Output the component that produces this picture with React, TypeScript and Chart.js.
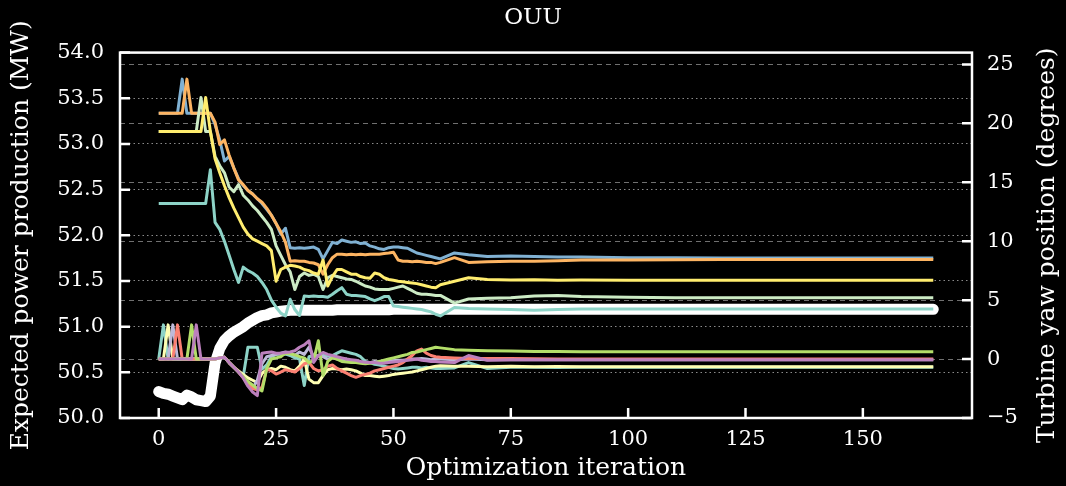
import React, { useEffect, useRef } from "react";
import { Chart, registerables } from "chart.js";

Chart.register(...registerables);

// ---------------- data ----------------
const iterations = [
  0, 1, 2, 3, 4, 5, 6, 7, 8, 9,
  10, 11, 12, 13, 14, 15, 16, 17, 18, 19,
  20, 21, 22, 23, 24, 25, 26, 27, 28, 29,
  30, 31, 32, 33, 34, 35, 36, 37, 38, 39,
  40, 41, 42, 43, 44, 45, 46, 47, 48, 49,
  50, 51, 52, 53, 54, 55, 56, 57, 58, 59, 60,
  63, 66, 70, 75, 80, 85, 90, 100, 110, 120, 135, 150, 165,
];

// Expected power production (MW), left axis
const powerMW = [
  50.29, 50.27, 50.26, 50.24, 50.22, 50.2, 50.25, 50.23, 50.2, 50.19,
  50.18, 50.24, 50.6, 50.76, 50.85, 50.9, 50.94, 50.97, 51.0, 51.04,
  51.07, 51.1, 51.12, 51.13, 51.15, 51.16, 51.17, 51.175, 51.18, 51.18,
  51.18, 51.18, 51.18, 51.18, 51.18, 51.18, 51.18, 51.18, 51.185, 51.185,
  51.185, 51.185, 51.185, 51.185, 51.185, 51.185, 51.185, 51.185, 51.185, 51.185,
  51.19, 51.19, 51.19, 51.19, 51.19, 51.19, 51.19, 51.19, 51.19, 51.19, 51.19,
  51.19, 51.19, 51.19, 51.19, 51.19, 51.19, 51.19, 51.19, 51.19, 51.19, 51.19, 51.19, 51.19,
];

// Turbine yaw positions (degrees), right axis
const yawT0 = [
  0, 2.9, 0, 0, 0, 0, 0, 0, 0, 0,
  0, 0, 0, 0.1, 0.15, -0.3, -0.7, -1.1, -1.5, 1.0,
  1.0, 1.0, -0.85, -0.5, 0.2, 0.4, 0.4, 0.42, 0.3, 0.1,
  0.0, -2.25, 0.2, 0.3, 0.25, 0.3, 0.28, 0.3, 0.5, 0.7,
  0.6, 0.5, 0.4, 0.2, -0.2, -0.3, -0.45, -0.5, -0.6, -0.7,
  -0.8, -0.85, -0.8, -0.75, -0.7, -0.7, -0.75, -0.7, -0.75, -0.8, -0.8,
  -0.75, -0.3, -0.8, -0.7, -0.7, -0.72, -0.7, -0.7, -0.7, -0.7, -0.7, -0.7, -0.7,
];
const yawT1 = [
  0, 0, 2.9, 0, 0, 0, 0, 0, 0, 0,
  0, 0, 0, 0.1, 0.15, -0.3, -0.7, -1.0, -1.3, -1.6,
  -1.8, -2.0, -1.2, -0.9, -0.8, -0.9, -0.6, -0.7, -0.9, -1.0,
  -0.6, 0.0, -1.7, -2.0, -2.0, -1.4, -0.9, -0.8, -0.85, -0.9,
  -0.85, -0.9, -1.0, -1.2, -1.4, -1.4, -1.45, -1.5, -1.45, -1.4,
  -1.3, -1.25, -1.2, -1.15, -1.1, -1.0, -0.9, -0.8, -0.7, -0.6, -0.56,
  -0.6, -0.6, -0.65, -0.62, -0.65, -0.64, -0.65, -0.65, -0.65, -0.65, -0.65, -0.65, -0.65,
];
const yawT2 = [
  0, 0, 0, 2.9, 0, 0, 0, 0, 0, 0,
  0, 0, 0, 0.1, 0.15, -0.3, -0.7, -1.1, -1.5, -2.0,
  -2.5, -1.8, -0.4, 0.2, 0.3, 0.4, 0.5, 0.6, 0.5, 0.3,
  0.6, 0.4, 1.0, 0.2, 0.3, 0.2, 0.0, 0.1, 0.0, -0.1,
  0.0, -0.2, -0.3, -0.25, -0.3, -0.3, -0.2, -0.25, -0.2, -0.2,
  -0.15, -0.1, -0.1, -0.05, 0, 0, 0.05, 0, -0.05, 0, 0,
  -0.05, 0, -0.05, -0.05, -0.05, -0.05, -0.05, -0.05, -0.05, -0.05, -0.05, -0.05, -0.05,
];
const yawT3 = [
  0, 0, 0, 0, 2.9, 0, 0, 0, 0, 0,
  0, 0, 0, 0.1, 0.15, -0.3, -0.7, -1.1, -1.6, -2.1,
  -2.5, -2.6, -2.4, -0.85, -1.0, -1.27, -1.1, -0.9, -1.0, -1.1,
  -0.8, -0.4, -0.28, -0.8, -1.0, -0.9, -0.6, -0.5, -0.8, -1.0,
  -1.2, -1.4, -1.55, -1.4, -1.3, -1.2, -1.0, -0.9, -0.8, -0.7,
  -0.6, -0.5, -0.3, 0.0, 0.3, 0.7, 0.85, 0.5, 0.3, 0.2, 0.15,
  0.1, 0.05, 0.05, 0.05, 0.02, 0.0, 0.0, 0.0, 0.0, 0.0, 0.0, 0.0, 0.0,
];
const yawT4 = [
  20.85, 20.85, 20.85, 20.85, 20.85, 23.75, 20.85, 20.85, 20.85, 20.85,
  20.85, 20.85, 19.9, 18.6, 16.8, 17.2, 16.2, 15.3, 14.7, 14.3,
  14.0, 13.6, 13.2, 12.7, 12.2, 11.5, 10.6, 11.1, 9.45, 9.4,
  9.45, 9.4, 9.45, 9.5, 9.3, 8.5, 9.2, 9.9, 9.8, 10.1,
  10.0, 9.9, 9.95, 9.8, 9.85, 9.6, 9.5, 9.35, 9.3, 9.45,
  9.5, 9.5, 9.45, 9.4, 9.2, 9.0, 8.9, 8.8, 8.7, 8.6, 8.5,
  9.0, 8.85, 8.7, 8.75, 8.7, 8.65, 8.65, 8.6, 8.6, 8.58, 8.58, 8.58, 8.58,
];
const yawT5 = [
  20.85, 20.85, 20.85, 20.85, 20.85, 20.85, 23.75, 20.85, 20.85, 20.85,
  20.85, 20.85, 20.1, 18.2, 18.6, 17.3, 16.2, 15.2, 14.8, 14.3,
  14.0, 13.6, 13.3, 12.8, 12.2, 11.5, 10.8, 9.9, 8.3, 8.35,
  8.3, 8.3, 8.2, 8.15, 8.0, 7.2, 8.0, 8.6, 8.9, 8.9,
  8.85, 8.9, 8.85, 8.9, 8.85, 8.9, 8.9, 8.9, 8.95, 9.0,
  9.07, 8.4, 8.3, 8.3, 8.25, 8.3, 8.25, 8.2, 8.2, 8.1, 8.2,
  8.6, 8.2, 8.25, 8.3, 8.3, 8.35, 8.4, 8.4, 8.42, 8.45, 8.45, 8.45, 8.45,
];
const yawT6 = [
  0, 0, 0, 0, 0, 0, 0, 2.9, 0, 0,
  0, 0, 0, 0.1, 0.15, -0.3, -0.7, -1.1, -1.5, -1.9,
  -2.2, -2.5, -2.7, -0.8, 0.0, 0.1, 0.2, 0.5, 0.45, 0.35,
  0.2, 0.1, -0.3, -0.1, 1.55, -1.4, -0.2, 0.1, 0.0, -0.2,
  -0.25, -0.3, -0.3, -0.35, -0.4, -0.35, -0.3, -0.2, -0.1, 0.0,
  0.1, 0.2, 0.3, 0.4, 0.56, 0.6, 0.7, 0.8, 0.9, 1.0, 0.95,
  0.8, 0.75, 0.7, 0.68, 0.65, 0.65, 0.63, 0.62, 0.62, 0.62, 0.62, 0.62, 0.62,
];
const yawT7 = [
  0, 0, 0, 0, 0, 0, 0, 0, 2.9, 0,
  0, 0, 0, 0.1, 0.15, -0.3, -0.7, -1.1, -1.6, -2.3,
  -2.8, -3.1, 0.5, 0.56, 0.6, 0.5, 0.5, 0.55, 0.6, 0.7,
  1.0, 1.2, 1.55, -0.28, 0.3, 0.56, 0.4, 0.3, 0.2, 0.1,
  0.0, -0.05, -0.1, -0.2, -0.28, -0.3, -0.3, -0.35, -0.35, -0.3,
  -0.25, -0.2, -0.15, -0.1, -0.05, 0.0, -0.1, -0.15, -0.2, -0.2, -0.25,
  -0.3, 0.3, -0.1, -0.05, -0.06, -0.06, -0.06, -0.06, -0.06, -0.06, -0.06, -0.06, -0.06,
];
const yawT8 = [
  19.3, 19.3, 19.3, 19.3, 19.3, 19.3, 19.3, 19.3, 19.3, 22.2,
  19.3, 19.3, 17.2, 16.4, 15.8, 14.6, 14.2, 14.8, 13.9, 13.5,
  13.0, 12.6, 12.1, 11.6, 11.0, 9.6, 8.8, 8.0, 7.4, 5.9,
  7.0, 7.3, 7.1, 7.2, 7.0, 5.9, 6.9, 7.1, 7.0, 6.9,
  6.8, 6.76, 6.6, 6.4, 6.2, 6.1, 5.95, 5.9, 5.9, 5.9,
  6.0, 6.1, 6.2, 6.0, 5.8, 5.58, 5.5, 5.5, 5.45, 5.4, 5.4,
  4.75, 5.1, 5.15, 5.2, 5.35, 5.4, 5.3, 5.25, 5.2, 5.2, 5.2, 5.2, 5.2,
];
const yawT9 = [
  19.3, 19.3, 19.3, 19.3, 19.3, 19.3, 19.3, 19.3, 19.3, 19.3,
  22.2, 19.3, 17.0, 15.8, 14.7, 13.7, 12.8, 12.0, 11.2, 10.6,
  10.2, 10.0, 9.8, 9.6, 9.2, 6.6, 7.6, 7.8, 7.95, 7.9,
  7.8, 7.6, 7.5, 7.3, 7.2, 8.4, 6.2, 7.0, 7.6, 7.6,
  7.4, 7.2, 7.2, 7.0, 6.9, 6.85, 7.3, 7.2, 6.9, 6.75,
  6.68, 6.6, 6.55, 6.5, 6.45, 6.4, 6.3, 6.2, 6.1, 6.05, 6.3,
  6.6, 6.9, 6.76, 6.7, 6.72, 6.68, 6.7, 6.68, 6.68, 6.68, 6.68, 6.68, 6.68,
];
const yawT10 = [
  13.2, 13.2, 13.2, 13.2, 13.2, 13.2, 13.2, 13.2, 13.2, 13.2,
  13.2, 16.06, 11.6, 11.0, 10.0, 8.8, 7.6, 6.5, 7.8, 7.5,
  7.3, 7.0, 6.5, 5.9, 5.0, 4.4, 3.9, 3.66, 5.07, 4.2,
  3.7, 5.35, 5.3, 5.35, 5.3, 5.3, 5.25, 5.5, 5.8, 6.06,
  5.5, 5.4, 5.4, 5.35, 5.3, 5.1, 4.95, 5.1, 5.3, 5.3,
  4.5, 4.45, 4.4, 4.35, 4.3, 4.25, 4.2, 4.1, 4.0, 3.8, 3.66,
  4.37, 4.3, 4.25, 4.2, 4.15, 4.2, 4.25, 4.25, 4.25, 4.25, 4.25, 4.25, 4.25,
];

const yawSeries = [yawT0, yawT1, yawT2, yawT3, yawT4, yawT5, yawT6, yawT7, yawT8, yawT9, yawT10];
const turbineColors = [
  "#8dd3c7", "#ffffb3", "#bebada", "#fb8072", "#80b1d3", "#fdb462",
  "#b3de69", "#bc80bd", "#ccebc5", "#ffed6f", "#8dd3c7",
];

const xTicks = [0, 25, 50, 75, 100, 125, 150];
const powerTicks = [50.0, 50.5, 51.0, 51.5, 52.0, 52.5, 53.0, 53.5, 54.0];
const yawTicks = [-5, 0, 5, 10, 15, 20, 25];

const titleText = "OUU";
const xTitle = "Optimization iteration";
const leftTitle = "Expected power production (MW)";
const rightTitle = "Turbine yaw position (degrees)";

const FONT = "'DejaVu Serif', 'Liberation Serif', serif";
const TICK_SIZE = 21;
const LABEL_SIZE = 25;

// ---------------- plugins ----------------
const bgPlugin = {
  id: "bgBlack",
  beforeDraw(chart: any) {
    const { ctx, width, height } = chart;
    ctx.save();
    ctx.fillStyle = "#000";
    ctx.fillRect(0, 0, width, height);
    ctx.restore();
  },
};

const framePlugin = {
  id: "frameTicks",
  afterDatasetsDraw(chart: any) {
    const { ctx, chartArea: a, scales } = chart;
    const L = 10;
    ctx.save();
    ctx.strokeStyle = "#ffffff";
    ctx.lineWidth = 2.5;
    ctx.lineCap = "butt";
    ctx.strokeRect(a.left, a.top, a.right - a.left, a.bottom - a.top);
    ctx.beginPath();
    scales.x.ticks.forEach((t: any) => {
      const p = scales.x.getPixelForValue(t.value);
      ctx.moveTo(p, a.bottom);
      ctx.lineTo(p, a.bottom - L);
    });
    scales.y.ticks.forEach((t: any) => {
      const p = scales.y.getPixelForValue(t.value);
      ctx.moveTo(a.left, p);
      ctx.lineTo(a.left + L, p);
    });
    scales.y2.ticks.forEach((t: any) => {
      const p = scales.y2.getPixelForValue(t.value);
      ctx.moveTo(a.right, p);
      ctx.lineTo(a.right - L, p);
    });
    ctx.stroke();

    // right axis title, reading bottom-to-top like the reference
    ctx.fillStyle = "#ffffff";
    ctx.font = `${LABEL_SIZE}px ${FONT}`;
    ctx.textAlign = "center";
    ctx.textBaseline = "middle";
    ctx.translate(1047, (a.top + a.bottom) / 2 + 10);
    ctx.rotate(-Math.PI / 2);
    ctx.fillText(rightTitle, 0, 0);
    ctx.restore();
  },
};

const fmtYaw = (v: number) => (v < 0 ? "\u2212" + Math.abs(v) : String(v));

export default function App() {
  const ref = useRef<HTMLCanvasElement | null>(null);

  useEffect(() => {
    if (!ref.current) return;
    const datasets: any[] = [
      {
        label: "power",
        data: iterations.map((x, i) => ({ x, y: powerMW[i] })),
        yAxisID: "y",
        borderColor: "#ffffff",
        borderWidth: 11,
        pointRadius: 0,
        borderJoinStyle: "round",
        borderCapStyle: "round",
        order: 100,
      },
      ...yawSeries.map((s, k) => ({
        label: "turbine " + k,
        data: iterations.map((x, i) => ({ x, y: s[i] })),
        yAxisID: "y2",
        borderColor: turbineColors[k],
        borderWidth: 3,
        pointRadius: 0,
        borderJoinStyle: "round",
        borderCapStyle: "butt",
        order: 50 - k,
      })),
    ];

    const chart = new Chart(ref.current, {
      type: "line",
      data: { datasets },
      plugins: [bgPlugin, framePlugin],
      options: {
        animation: false,
        responsive: false,
        devicePixelRatio: 1,
        layout: { padding: 0 },
        plugins: {
          legend: { display: false },
          tooltip: { enabled: false },
          title: {
            display: true,
            text: titleText,
            color: "#ffffff",
            font: { family: FONT, size: 23, weight: "normal" },
            padding: { top: 4, bottom: 21 },
          },
        },
        scales: {
          x: {
            type: "linear",
            min: -8.25,
            max: 173.25,
            afterBuildTicks: (s: any) => {
              s.ticks = xTicks.map((v) => ({ value: v }));
            },
            afterFit: (s: any) => {
              s.height = 68;
            },
            grid: { display: false, drawTicks: false },
            border: { display: false },
            ticks: {
              color: "#ffffff",
              font: { family: FONT, size: TICK_SIZE },
              padding: 9,
              maxRotation: 0,
            },
            title: {
              display: true,
              text: xTitle,
              color: "#ffffff",
              font: { family: FONT, size: LABEL_SIZE },
              padding: { top: 0, bottom: 3 },
            },
          },
          y: {
            type: "linear",
            position: "left",
            min: 50,
            max: 54,
            afterBuildTicks: (s: any) => {
              s.ticks = powerTicks.map((v) => ({ value: v }));
            },
            afterFit: (s: any) => {
              s.width = 120;
            },
            grid: { color: "#8a8a8a", lineWidth: 1, drawTicks: false },
            border: { display: false, dash: [1.5, 3] },
            ticks: {
              color: "#ffffff",
              font: { family: FONT, size: TICK_SIZE },
              padding: 16,
              callback: (v: any) => Number(v).toFixed(1),
            },
            title: {
              display: true,
              text: leftTitle,
              color: "#ffffff",
              font: { family: FONT, size: LABEL_SIZE },
              padding: { top: 6, bottom: 0 },
            },
          },
          y2: {
            type: "linear",
            position: "right",
            min: -5,
            max: 26,
            afterBuildTicks: (s: any) => {
              s.ticks = yawTicks.map((v) => ({ value: v }));
            },
            afterFit: (s: any) => {
              s.width = 94;
            },
            grid: { color: "#707070", lineWidth: 1, drawTicks: false },
            border: { display: false, dash: [5, 4] },
            ticks: {
              color: "#ffffff",
              font: { family: FONT, size: TICK_SIZE },
              padding: 15,
              callback: (v: any) => fmtYaw(Number(v)),
            },
          },
        },
      },
    } as any);
    return () => chart.destroy();
  }, []);

  return (
    <div
      style={{
        position: "fixed",
        left: 0,
        top: 0,
        width: 1066,
        height: 486,
        background: "#000",
      }}
    >
      <canvas ref={ref} width={1066} height={486} style={{ display: "block" }} />
    </div>
  );
}
